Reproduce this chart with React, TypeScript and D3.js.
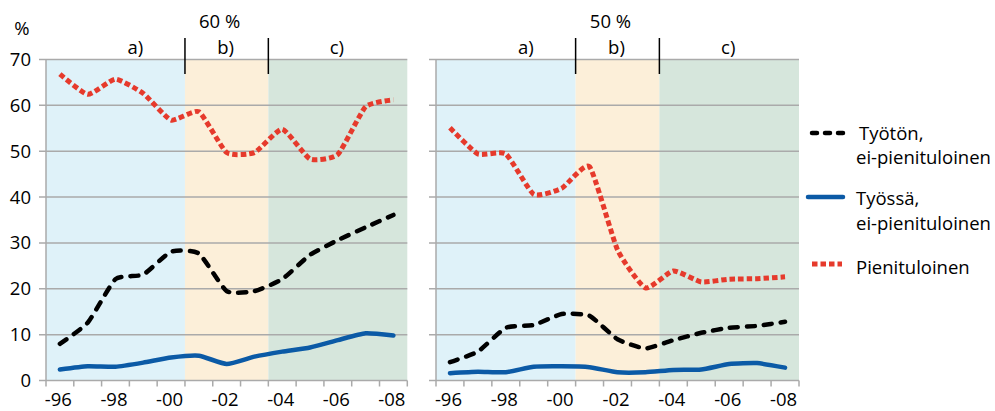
import React from 'react';
import * as d3 from 'd3';

const years = ['-96', '-97', '-98', '-99', '-00', '-01', '-02', '-03', '-04', '-05', '-06', '-07', '-08'];
const shownYears = ['-96', '-98', '-00', '-02', '-04', '-06', '-08'];
const yTicks = [0, 10, 20, 30, 40, 50, 60, 70];
const periods = ['a)', 'b)', 'c)'];
const periodStart = [0, 5, 8];

const leftTitle = '60 %';
const rightTitle = '50 %';

// left panel (60 %)
const leftTyoton = [8.0, 12.6, 22.1, 23.1, 28.1, 27.7, 19.5, 19.5, 22.1, 27.4, 30.6, 33.4, 36.1];
const leftTyossa = [2.4, 3.1, 3.0, 3.9, 5.0, 5.4, 3.6, 5.2, 6.3, 7.2, 8.8, 10.3, 9.8];
const leftPieni = [66.8, 62.4, 65.7, 62.6, 56.8, 58.6, 49.7, 49.7, 54.8, 48.3, 49.3, 59.7, 61.2];

// right panel (50 %)
const rightTyoton = [4.0, 6.3, 11.5, 12.1, 14.5, 14.1, 9.0, 7.0, 8.8, 10.4, 11.5, 11.9, 12.8];
const rightTyossa = [1.6, 1.9, 1.8, 3.0, 3.1, 2.9, 1.8, 1.8, 2.3, 2.4, 3.6, 3.8, 2.8];
const rightPieni = [55.1, 49.4, 49.4, 40.6, 41.9, 46.6, 28.5, 20.2, 23.9, 21.5, 22.1, 22.2, 22.6];

const legendNames = [['Työtön,', 'ei-pienituloinen'], ['Työssä,', 'ei-pienituloinen'], ['Pienituloinen']];

const FONT = '"Open Sans", sans-serif';
const FS = 18.5;
const W = 995;
const H = 411;
const yTop = 59.5;
const yBot = 380.5;
const shadeColors = ['#dff2f9', '#fcefd9', '#d6e6dc'];
const gridColor = '#aaaaaa';

const styles = [
  { stroke: '#000000', width: 4.5, dash: '8 9', cap: 'round' },
  { stroke: '#0b5aa6', width: 4.5, dash: null, cap: 'round' },
  { stroke: '#e63a2c', width: 5, dash: '5.5 3', cap: 'butt' },
];

const yScale = d3.scaleLinear().domain([0, 70]).range([yBot, yTop]);

function Panel({ x0, x1, title, series, showLabels }) {
  const xb = d3.scaleBand().domain(years).range([x0, x1]).paddingInner(0).paddingOuter(0);
  const bw = xb.bandwidth();
  const cx = (y) => xb(y) + bw / 2;
  const line = d3
    .line()
    .x((d, i) => cx(years[i]))
    .y((d) => yScale(d))
    .curve(d3.curveCardinal.tension(0.5));
  const bounds = [...periodStart.map((s) => xb(years[s])), x1];
  const center = (x0 + x1) / 2;
  return (
    <g>
      {periods.map((p, i) => (
        <rect key={p} x={bounds[i]} y={yTop} width={bounds[i + 1] - bounds[i]} height={yBot - yTop} fill={shadeColors[i]} />
      ))}
      {yTicks.map((t) => (
        <line key={t} x1={x0 - 7} x2={x1} y1={yScale(t)} y2={yScale(t)} stroke={gridColor} strokeWidth={1.5} />
      ))}
      <line x1={x0} x2={x0} y1={yTop} y2={yBot} stroke={gridColor} strokeWidth={1.5} />
      {[...years.map((y) => xb(y)), x1].map((x, i) => (
        <line key={i} x1={x} x2={x} y1={yBot} y2={yBot + 6} stroke={gridColor} strokeWidth={1.5} />
      ))}
      {showLabels &&
        yTicks.map((t) => (
          <text key={t} x={x0 - 15} y={yScale(t) + 6.5} textAnchor="end" fontSize={FS} fontFamily={FONT} fill="#000">
            {t}
          </text>
        ))}
      {shownYears.map((y) => (
        <text key={y} x={cx(y) - 1.5} y={406} textAnchor="middle" fontSize={FS} fontFamily={FONT} fill="#000">
          {y}
        </text>
      ))}
      {[bounds[1], bounds[2]].map((x, i) => (
        <line key={i} x1={x} x2={x} y1={38} y2={74} stroke="#000" strokeWidth={1.5} />
      ))}
      {periods.map((p, i) => (
        <text
          key={p}
          x={i === 0 ? (bounds[0] + bounds[1]) / 2 + 20 : (bounds[i] + bounds[i + 1]) / 2 - 1}
          y={54}
          textAnchor="middle"
          fontSize={FS}
          fontFamily={FONT}
          fill="#000"
        >
          {p}
        </text>
      ))}
      <text x={center - 7} y={28} textAnchor="middle" fontSize={FS} fontFamily={FONT} fill="#000">
        {title}
      </text>
      {series.map((s, i) => (
        <path
          key={i}
          d={line(s)}
          fill="none"
          stroke={styles[i].stroke}
          strokeWidth={styles[i].width}
          strokeDasharray={styles[i].dash || undefined}
          strokeLinecap={styles[i].cap}
          strokeLinejoin="round"
        />
      ))}
    </g>
  );
}

export default function App() {
  const legendY = [133, 197, 264];
  const legendText = [
    [140, 164],
    [205, 230],
    [274],
  ];
  return (
    <svg width={W} height={H} style={{ position: 'absolute', left: 0, top: 0, background: '#fff' }}>
      <rect x={0} y={0} width={W} height={H} fill="#fff" />
      <text x={22} y={35} textAnchor="middle" fontSize={FS} fontFamily={FONT} fill="#000">
        %
      </text>
      <Panel x0={46} x1={407.3} title={leftTitle} series={[leftTyoton, leftTyossa, leftPieni]} showLabels={true} />
      <Panel x0={436} x1={799} title={rightTitle} series={[rightTyoton, rightTyossa, rightPieni]} showLabels={false} />
      {legendNames.map((names, i) => (
        <g key={i}>
          <line
            x1={i === 1 ? 808 : 812}
            x2={i === 1 ? 843 : i === 0 ? 846 : 842}
            y1={legendY[i]}
            y2={legendY[i]}
            stroke={styles[i].stroke}
            strokeWidth={styles[i].width}
            strokeDasharray={i === 0 ? '5 8' : styles[i].dash || undefined}
            strokeLinecap={styles[i].cap}
          />
          {names.map((n, j) => (
            <text key={j} x={i === 0 && j === 0 ? 859 : 856} y={legendText[i][j]} fontSize={FS} fontFamily={FONT} fill="#000">
              {n}
            </text>
          ))}
        </g>
      ))}
    </svg>
  );
}
